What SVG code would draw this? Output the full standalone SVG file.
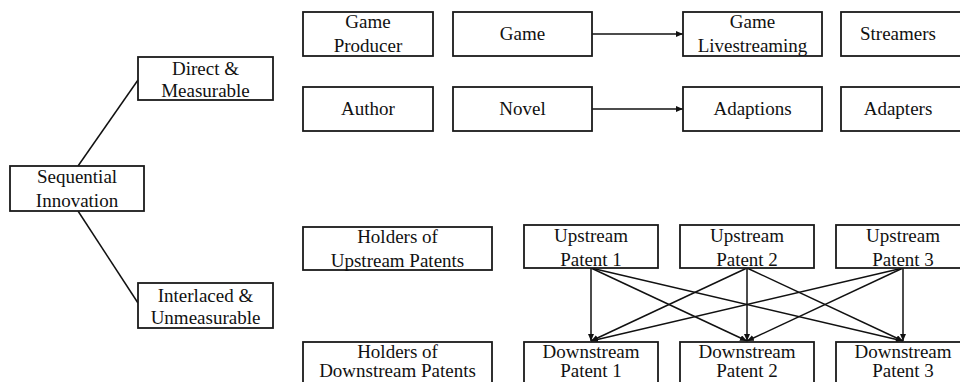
<svg xmlns="http://www.w3.org/2000/svg" width="960" height="382" viewBox="0 0 960 382" font-family="Liberation Serif, Times New Roman, Tinos, DejaVu Serif, serif">
<style>
rect{fill:#fff;stroke:#1a1a1a;stroke-width:1.8}
text{font-size:19px;fill:#111;text-anchor:middle}
.c line{stroke:#111;stroke-width:1.5}
</style>
<defs>
<marker id="ah" markerUnits="userSpaceOnUse" markerWidth="8" markerHeight="8" refX="7" refY="3" orient="auto">
<path d="M0,0 L7,3 L0,6 z" fill="#111"/>
</marker>
</defs>
<rect width="960" height="382" fill="#fff" style="stroke:none"/>
<g class="c" id="connectors">
<line x1="78" y1="166" x2="138" y2="80"/>
<line x1="78" y1="211" x2="138" y2="303"/>
<line x1="592" y1="34" x2="683" y2="34" marker-end="url(#ah)"/>
<line x1="592" y1="109" x2="683" y2="109" marker-end="url(#ah)"/>
<line x1="591" y1="268" x2="591" y2="341" marker-end="url(#ah)"/>
<line x1="591" y1="268" x2="747" y2="341" marker-end="url(#ah)"/>
<line x1="591" y1="268" x2="903" y2="341" marker-end="url(#ah)"/>
<line x1="747" y1="268" x2="591" y2="341" marker-end="url(#ah)"/>
<line x1="747" y1="268" x2="747" y2="341" marker-end="url(#ah)"/>
<line x1="747" y1="268" x2="903" y2="341" marker-end="url(#ah)"/>
<line x1="903" y1="268" x2="591" y2="341" marker-end="url(#ah)"/>
<line x1="903" y1="268" x2="747" y2="341" marker-end="url(#ah)"/>
<line x1="903" y1="268" x2="903" y2="341" marker-end="url(#ah)"/>
</g>
<g id="sequential"><rect x="10" y="166" width="134" height="45"/><text x="77" y="183">Sequential</text><text x="77" y="207">Innovation</text></g>
<g id="direct"><rect x="138" y="57" width="135" height="43"/><text x="205.5" y="75">Direct &amp;</text><text x="205.5" y="97">Measurable</text></g>
<g id="interlaced"><rect x="138" y="283" width="135" height="45"/><text x="205.5" y="302">Interlaced &amp;</text><text x="205.5" y="324">Unmeasurable</text></g>
<g id="game-producer"><rect x="303" y="12" width="130" height="44"/><text x="368" y="28">Game</text><text x="368" y="52">Producer</text></g>
<g id="game"><rect x="453" y="12" width="139" height="44"/><text x="522.5" y="40">Game</text></g>
<g id="game-livestreaming"><rect x="683" y="12" width="139" height="44"/><text x="752.5" y="28">Game</text><text x="752.5" y="52">Livestreaming</text></g>
<g id="streamers"><rect x="841" y="12" width="139" height="44"/><text x="898" y="40">Streamers</text></g>
<g id="author"><rect x="303" y="87" width="130" height="44"/><text x="368" y="115">Author</text></g>
<g id="novel"><rect x="453" y="87" width="139" height="44"/><text x="522.5" y="115">Novel</text></g>
<g id="adaptions"><rect x="683" y="87" width="139" height="44"/><text x="752.5" y="115">Adaptions</text></g>
<g id="adapters"><rect x="841" y="87" width="139" height="44"/><text x="898" y="115">Adapters</text></g>
<g id="holders-up"><rect x="303" y="227" width="189" height="43"/><text x="397.5" y="243">Holders of</text><text x="397.5" y="267">Upstream Patents</text></g>
<g id="up1"><rect x="524" y="225" width="134" height="43"/><text x="591" y="242">Upstream</text><text x="591" y="266">Patent 1</text></g>
<g id="up2"><rect x="680" y="225" width="134" height="43"/><text x="747" y="242">Upstream</text><text x="747" y="266">Patent 2</text></g>
<g id="up3"><rect x="836" y="225" width="134" height="43"/><text x="903" y="242">Upstream</text><text x="903" y="266">Patent 3</text></g>
<g id="holders-down"><rect x="303" y="342" width="189" height="50"/><text x="397.5" y="358">Holders of</text><text x="397.5" y="377">Downstream Patents</text></g>
<g id="down1"><rect x="524" y="342" width="134" height="50"/><text x="591" y="358">Downstream</text><text x="591" y="377">Patent 1</text></g>
<g id="down2"><rect x="680" y="342" width="134" height="50"/><text x="747" y="358">Downstream</text><text x="747" y="377">Patent 2</text></g>
<g id="down3"><rect x="836" y="342" width="134" height="50"/><text x="903" y="358">Downstream</text><text x="903" y="377">Patent 3</text></g>
</svg>
